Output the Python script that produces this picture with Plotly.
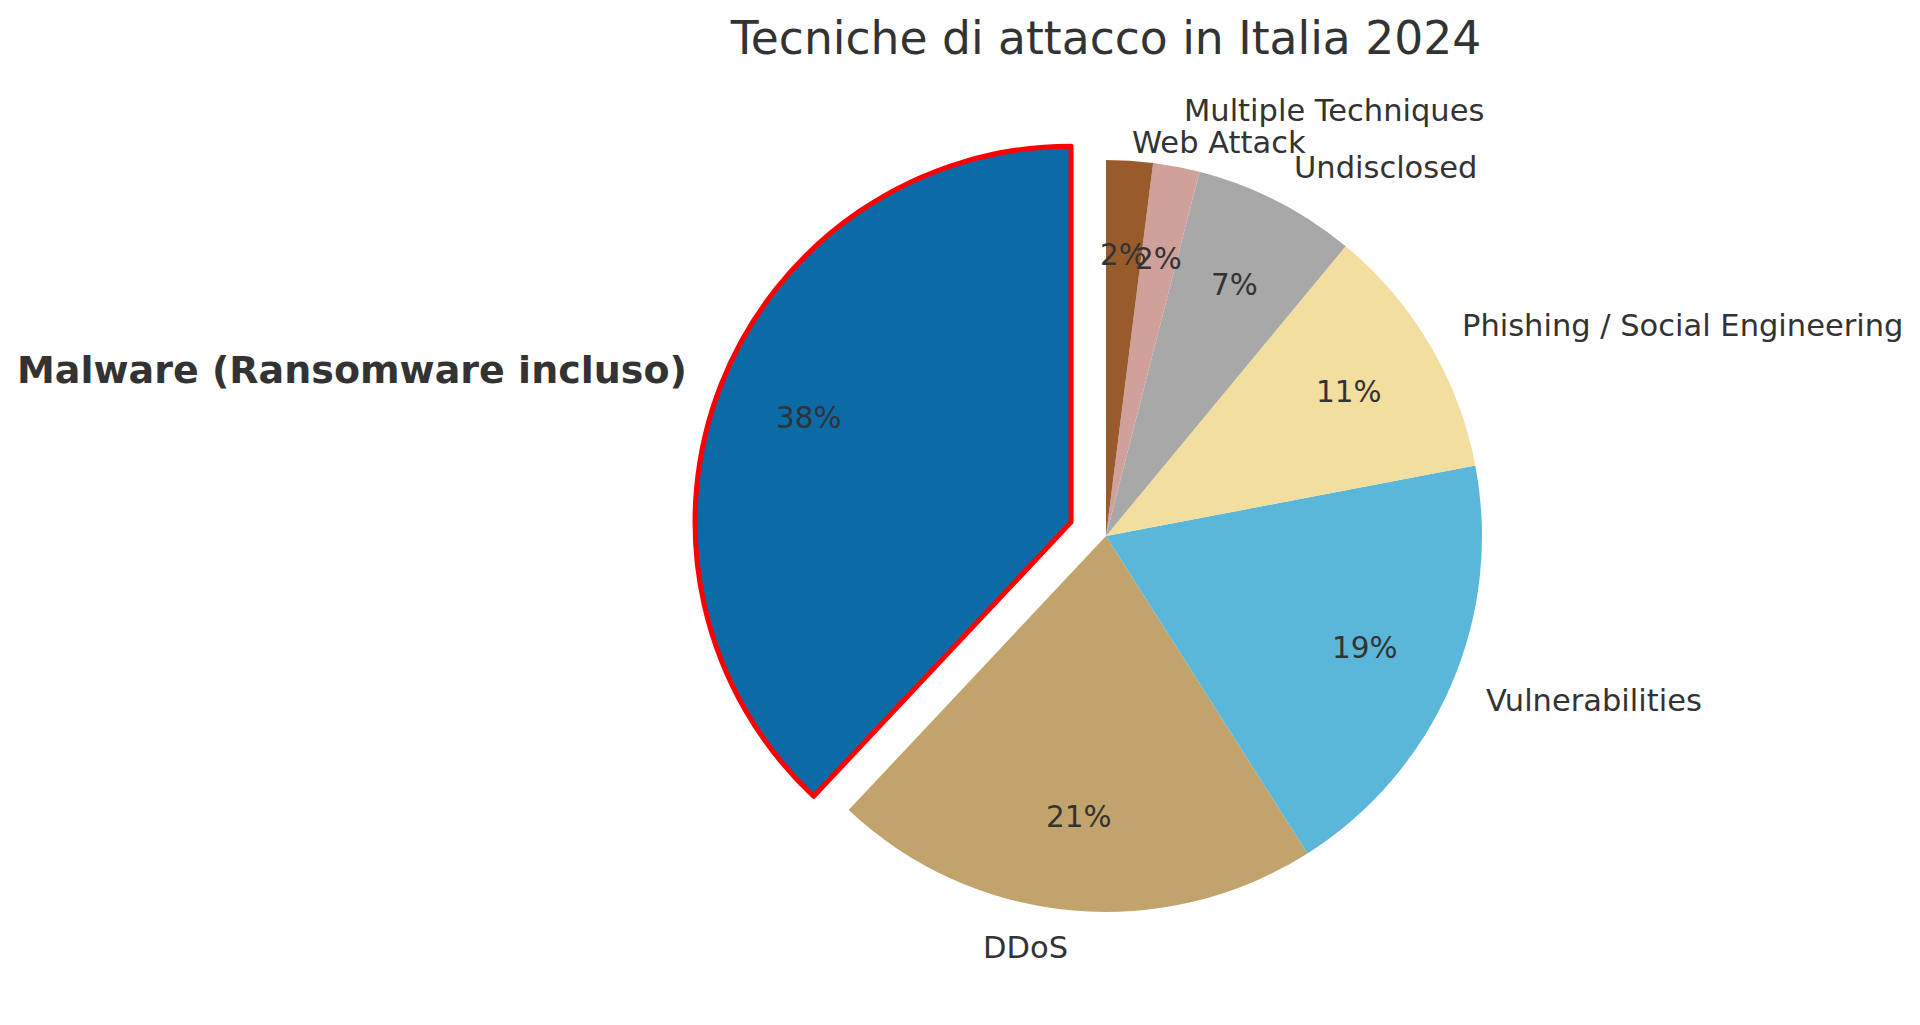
import math
import plotly.graph_objects as go

# ---------------- data ----------------
labels = ["Malware (Ransomware incluso)", "DDoS", "Vulnerabilities",
          "Phishing / Social Engineering", "Undisclosed",
          "Multiple Techniques", "Web Attack"]
values = [38, 21, 19, 11, 7, 2, 2]
colors = ["#0B6BA6", "#C3A36C", "#5BB7D9", "#F2DE9F", "#A8A8A8", "#D0A19A", "#9A5B2C"]
pulls = [0.1, 0, 0, 0, 0, 0, 0]
title_text = "Tecniche di attacco in Italia 2024"

# ---------------- layout geometry ----------------
W, H = 1920, 1025
CX, CY = 1106, 536          # pie centre in pixels (from top-left)
R = 376                     # pie radius in pixels
MAXPULL = max(pulls)
BOX = 2 * R * (1 + MAXPULL)
LABEL_DIST = 1.1
PCT_DIST = 0.75
label_nudge = [0, 0, 0, 0, 0, -19, 19]   # vertical tweak (px, +down) to avoid overlaps
TXT = "#333333"
FONT = "DejaVu Sans"

total = sum(values)
# plotly's counterclockwise pies end the first slice at the rotation angle;
# rotate so the first slice starts at 12 o'clock and runs counterclockwise
rotation = -360.0 * values[0] / total

fig = go.Figure(go.Pie(
    labels=labels, values=values, sort=False, direction="counterclockwise",
    rotation=rotation, pull=pulls, textinfo="none", hoverinfo="label+percent",
    marker=dict(colors=colors,
                line=dict(color=["red"] + ["white"] * (len(values) - 1),
                          width=[5] + [0] * (len(values) - 1))),
    domain=dict(x=[(CX - BOX / 2) / W, (CX + BOX / 2) / W],
                y=[(H - CY - BOX / 2) / H, (H - CY + BOX / 2) / H]),
    showlegend=False,
))

annotations = []
cum = 0
for i, (lab, v) in enumerate(zip(labels, values)):
    mid = math.radians(90 + 360 * (cum + v / 2) / total)
    cum += v
    c, s = math.cos(mid), math.sin(mid)
    ox = CX + pulls[i] * R * c
    oy = CY - pulls[i] * R * s
    # category label
    lx = ox + LABEL_DIST * R * c
    ly = oy - LABEL_DIST * R * s + label_nudge[i]
    bold = i == 0
    annotations.append(dict(
        x=lx / W, y=(H - ly) / H, xref="paper", yref="paper",
        text=("<b>%s</b>" % lab) if bold else lab, showarrow=False,
        xanchor="left" if c > 0 else "right", yanchor="middle",
        xshift=(3 if c < 0 else -2),
        font=dict(family=FONT, size=38 if bold else 30.5, color=TXT)))
    # percentage
    px_ = ox + PCT_DIST * R * c
    py_ = oy - PCT_DIST * R * s
    annotations.append(dict(
        x=px_ / W, y=(H - py_) / H, xref="paper", yref="paper",
        text="%d%%" % round(100 * v / total), showarrow=False,
        xanchor="center", yanchor="middle",
        font=dict(family=FONT, size=29.5, color=TXT)))

fig.update_layout(
    width=W, height=H, margin=dict(l=0, r=0, t=0, b=0),
    paper_bgcolor="white", plot_bgcolor="white",
    font=dict(family=FONT, color=TXT),
    title=dict(text=title_text, x=CX / W, xanchor="center", y=1 - 38 / H,
               yanchor="middle", xref="paper", yref="container",
               font=dict(family=FONT, size=45.6, color=TXT)),
    annotations=annotations,
)

fig.write_html("out.html")
